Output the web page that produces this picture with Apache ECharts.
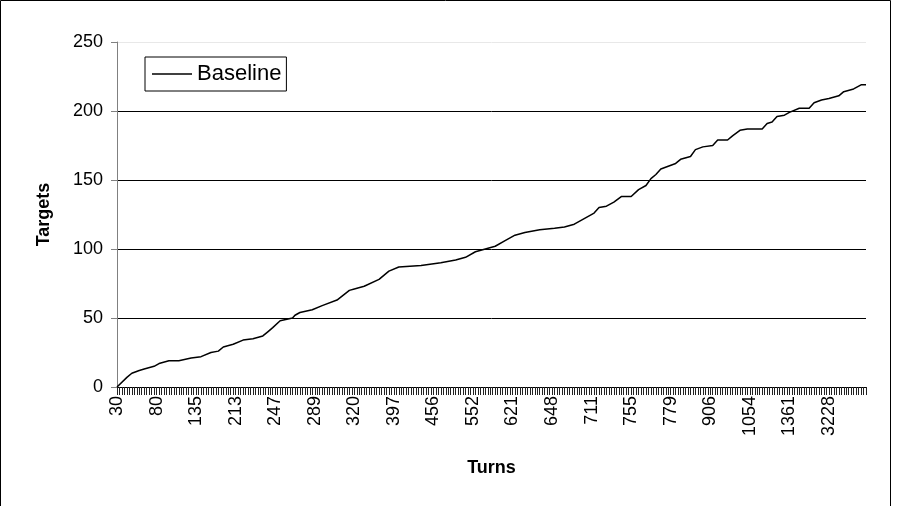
<!DOCTYPE html>
<html>
<head>
<meta charset="utf-8">
<script src="https://cdn.jsdelivr.net/npm/echarts@6/dist/echarts.min.js"></script>
<style>
  html, body { margin: 0; padding: 0; background: #fff; }
  #chart { width: 915px; height: 506px; }
</style>
</head>
<body>
<div id="chart"></div>
<script>
// tick labels shown on the Turns axis (one every 16 categories)
var turnLabels = ['30', '80', '135', '213', '247', '289', '320', '397', '456', '552',
  '621', '648', '711', '755', '779', '906', '1054', '1361', '3228'];
var catCount = 304;
var labelStep = 16;

// points: category index -> targets
var pointIdx = [0, 4, 6, 9, 11, 15, 17, 21, 25, 30, 34, 38, 41, 43, 47, 51, 55, 59, 61, 63,
  66, 71, 72, 74, 79, 83, 89, 94, 96, 100, 106, 110, 114, 123, 131, 137, 141, 145, 149, 153,
  157, 161, 165, 171, 177, 181, 185, 189, 193, 195, 198, 201, 204, 208, 211, 214, 216, 218, 220, 223,
  226, 228, 232, 234, 237, 241, 243, 247, 249, 252, 255, 261, 263, 265, 267, 270, 272, 276, 280, 282,
  285, 288, 292, 294, 298, 301, 303];
var targets = [0, 7, 10, 12, 13, 15, 17, 19, 19, 21, 22, 25, 26, 29, 31, 34, 35, 37, 40, 43,
  48, 50, 52, 54, 56, 59, 63, 70, 71, 73, 78, 84, 87, 88, 90, 92, 94, 98, 100, 102,
  106, 110, 112, 114, 115, 116, 118, 122, 126, 130, 131, 134, 138, 138, 143, 146, 151, 154, 158, 160,
  162, 165, 167, 172, 174, 175, 179, 179, 182, 186, 187, 187, 191, 192, 196, 197, 199, 202, 202, 206,
  208, 209, 211, 214, 216, 219, 219];

var categories = [];
for (var i = 0; i < catCount; i++) {
  categories.push(i % labelStep === 0 ? (turnLabels[i / labelStep] || '') : '');
}
var seriesData = pointIdx.map(function (c, k) { return [c, targets[k]]; });

var font = 'Liberation Sans, Arial, sans-serif';
var myChart = echarts.init(document.getElementById('chart'));
myChart.setOption({
  animation: false,
  graphic: [{
    type: 'rect',
    shape: { x: 0.5, y: 0.5, width: 890, height: 530 },
    style: { fill: null, stroke: '#000', lineWidth: 1 }
  }],
  legend: {
    left: 145,
    top: 57,
    padding: [6, 5, 6, 7],
    borderColor: '#000',
    borderWidth: 1,
    itemWidth: 40,
    itemHeight: 22,
    icon: 'path://M0,10.5 L40,10.5 L40,11.8 L0,11.8 Z',
    textStyle: { fontFamily: font, fontSize: 22, color: '#000' },
    data: ['Baseline']
  },
  grid: { left: 117, right: 49, top: 42, bottom: 119 },
  xAxis: {
    type: 'category',
    boundaryGap: false,
    data: categories,
    name: 'Turns',
    nameLocation: 'middle',
    nameGap: 72,
    nameTextStyle: { fontFamily: font, fontSize: 18, fontWeight: 'bold', color: '#000' },
    axisLine: { lineStyle: { color: '#000', width: 1 } },
    axisTick: { interval: 0, length: 8, lineStyle: { color: '#222' } },
    axisLabel: {
      interval: labelStep - 1,
      rotate: 90,
      margin: 9,
      fontFamily: font,
      fontSize: 18,
      color: '#000'
    },
    splitLine: { show: false }
  },
  yAxis: {
    type: 'value',
    min: 0,
    max: 250,
    interval: 50,
    name: 'Targets',
    nameLocation: 'middle',
    nameGap: 64,
    nameTextStyle: { fontFamily: font, fontSize: 18, fontWeight: 'bold', color: '#000' },
    axisLine: { show: true, lineStyle: { color: '#808080' } },
    axisTick: { show: true, length: 6, lineStyle: { color: '#808080' } },
    axisLabel: { margin: 14, fontFamily: font, fontSize: 18, color: '#000' },
    splitLine: { lineStyle: { color: ['#000', '#000', '#000', '#000', '#000', '#e8e8e8'], width: 1 } }
  },
  series: [{
    name: 'Baseline',
    type: 'line',
    data: seriesData,
    symbol: 'none',
    lineStyle: { color: '#000', width: 1.5 },
    itemStyle: { color: '#000' }
  }]
});
</script>
</body>
</html>
